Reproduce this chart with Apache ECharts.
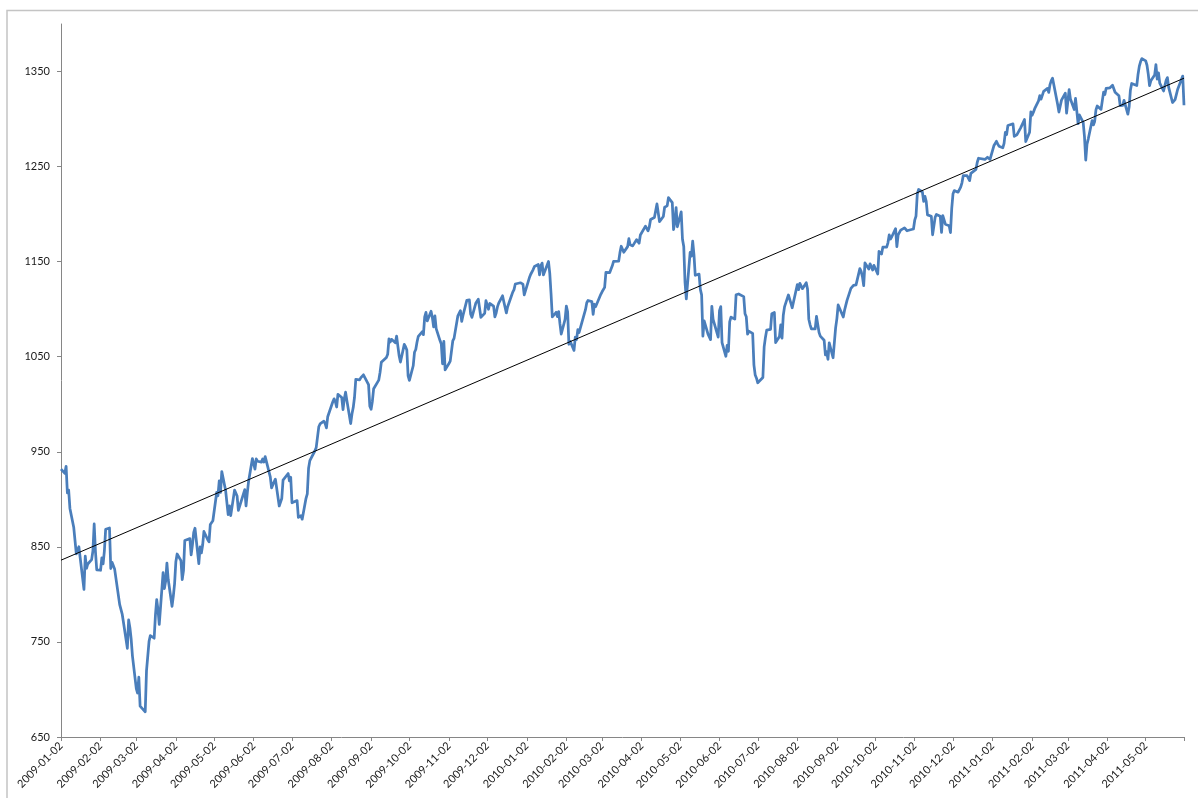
<!DOCTYPE html>
<html>
<head>
<meta charset="utf-8">
<script src="https://cdn.jsdelivr.net/npm/echarts@6/dist/echarts.min.js"></script>
<style>
html,body{margin:0;padding:0;background:#fff;}
#chart{width:1198px;height:798px;}
</style>
</head>
<body>
<div id="chart"></div>
<script>
// Daily closing values
const close2009 = [
['01-02',931.8],['01-05',927.5],['01-06',934.7],['01-07',906.7],['01-08',909.7],['01-09',890.4],['01-12',870.3],['01-13',871.8],['01-14',842.6],['01-15',843.7],['01-16',850.1],['01-20',805.2],['01-21',840.2],['01-22',827.5],['01-23',832.0],['01-26',836.6],['01-27',845.7],['01-28',874.1],['01-29',845.1],['01-30',825.9],
['02-02',825.4],['02-03',838.5],['02-04',832.2],['02-05',845.9],['02-06',868.6],['02-09',869.9],['02-10',827.2],['02-11',833.7],['02-12',835.2],['02-13',826.8],['02-17',789.2],['02-18',788.4],['02-19',778.9],['02-20',770.1],['02-23',743.3],['02-24',773.1],['02-25',764.9],['02-26',752.8],['02-27',735.1],
['03-02',700.8],['03-03',696.3],['03-04',712.9],['03-05',682.5],['03-06',683.4],['03-09',676.5],['03-10',719.6],['03-11',721.4],['03-12',750.7],['03-13',756.6],['03-16',753.9],['03-17',778.1],['03-18',794.4],['03-19',784.0],['03-20',768.5],['03-23',822.9],['03-24',806.1],['03-25',813.9],['03-26',832.9],['03-27',815.9],['03-30',787.5],['03-31',797.9],
['04-01',811.1],['04-02',834.4],['04-03',842.5],['04-06',835.5],['04-07',815.6],['04-08',825.2],['04-09',856.6],['04-13',858.7],['04-14',841.5],['04-15',852.1],['04-16',865.3],['04-17',869.6],['04-20',832.4],['04-21',850.1],['04-22',843.6],['04-23',851.9],['04-24',866.2],['04-27',857.5],['04-28',855.2],['04-29',873.6],['04-30',872.8],
['05-01',877.5],['05-04',907.2],['05-05',903.8],['05-06',919.5],['05-07',907.4],['05-08',929.2],['05-11',909.2],['05-12',908.4],['05-13',883.9],['05-14',893.1],['05-15',882.9],['05-18',909.7],['05-19',908.1],['05-20',903.5],['05-21',888.3],['05-22',887.0],['05-26',910.3],['05-27',893.1],['05-28',906.8],['05-29',919.1],
['06-01',942.9],['06-02',944.7],['06-03',931.8],['06-04',942.5],['06-05',940.1],['06-08',939.1],['06-09',942.4],['06-10',939.2],['06-11',944.9],['06-12',946.2],['06-15',923.7],['06-16',912.0],['06-17',910.7],['06-18',918.4],['06-19',921.2],['06-22',893.0],['06-23',895.1],['06-24',900.9],['06-25',920.3],['06-26',918.9],['06-29',927.2],['06-30',919.3],
['07-01',923.3],['07-02',896.4],['07-06',898.7],['07-07',881.0],['07-08',879.6],['07-09',882.7],['07-10',879.1],['07-13',901.1],['07-14',905.8],['07-15',932.7],['07-16',940.7],['07-17',940.4],['07-20',951.1],['07-21',954.6],['07-22',954.1],['07-23',976.3],['07-24',979.3],['07-27',982.2],['07-28',979.6],['07-29',975.2],['07-30',986.8],['07-31',987.5],
['08-03',1002.6],['08-04',1005.7],['08-05',1002.7],['08-06',997.1],['08-07',1010.5],['08-10',1007.1],['08-11',994.4],['08-12',1005.8],['08-13',1012.7],['08-14',1004.1],['08-17',979.7],['08-18',989.7],['08-19',996.5],['08-20',1007.4],['08-21',1026.1],['08-24',1025.6],['08-25',1028.0],['08-26',1028.1],['08-27',1031.0],['08-28',1028.9],['08-31',1020.6],
['09-01',998.0],['09-02',994.8],['09-03',1003.2],['09-04',1016.4],['09-08',1025.4],['09-09',1033.4],['09-10',1044.1],['09-11',1042.7],['09-14',1049.3],['09-15',1052.6],['09-16',1068.8],['09-17',1065.5],['09-18',1068.3],['09-21',1064.7],['09-22',1071.7],['09-23',1060.9],['09-24',1050.8],['09-25',1044.4],['09-28',1063.0],['09-29',1060.6],['09-30',1057.1],
['10-01',1029.9],['10-02',1025.2],['10-05',1040.5],['10-06',1054.7],['10-07',1057.6],['10-08',1065.5],['10-09',1071.5],['10-12',1076.2],['10-13',1073.2],['10-14',1092.0],['10-15',1096.6],['10-16',1087.7],['10-19',1097.9],['10-20',1091.1],['10-21',1081.4],['10-22',1092.9],['10-23',1079.6],['10-26',1067.0],['10-27',1063.4],['10-28',1042.6],['10-29',1066.1],['10-30',1036.2],
['11-02',1042.9],['11-03',1045.4],['11-04',1046.5],['11-05',1066.6],['11-06',1069.3],['11-09',1093.1],['11-10',1093.0],['11-11',1098.5],['11-12',1087.2],['11-13',1093.5],['11-16',1109.3],['11-17',1110.3],['11-18',1109.8],['11-19',1094.9],['11-20',1091.4],['11-23',1106.2],['11-24',1105.7],['11-25',1110.6],['11-27',1091.5],['11-30',1095.6],
['12-01',1108.9],['12-02',1109.2],['12-03',1099.9],['12-04',1106.0],['12-07',1103.3],['12-08',1091.9],['12-09',1096.0],['12-10',1102.4],['12-11',1106.4],['12-14',1114.1],['12-15',1107.9],['12-16',1109.2],['12-17',1096.1],['12-18',1102.5],['12-21',1114.1],['12-22',1118.0],['12-23',1120.6],['12-24',1126.5],['12-28',1127.8],['12-29',1126.2],['12-30',1126.4],['12-31',1115.1]
];
const close2010 = [
['01-04',1133.0],['01-05',1136.5],['01-06',1137.1],['01-07',1141.7],['01-08',1145.0],['01-11',1147.0],['01-12',1136.2],['01-13',1145.7],['01-14',1148.5],['01-15',1136.0],['01-19',1150.2],['01-20',1138.0],['01-21',1116.5],['01-22',1091.8],['01-25',1096.8],['01-26',1092.2],['01-27',1097.5],['01-28',1084.5],['01-29',1073.9],
['02-01',1089.2],['02-02',1103.3],['02-03',1097.3],['02-04',1063.1],['02-05',1066.2],['02-08',1056.7],['02-09',1070.5],['02-10',1068.1],['02-11',1078.5],['02-12',1075.5],['02-16',1094.9],['02-17',1099.5],['02-18',1106.8],['02-19',1109.2],['02-22',1108.0],['02-23',1094.6],['02-24',1105.2],['02-25',1102.9],['02-26',1104.5],
['03-01',1115.7],['03-02',1118.3],['03-03',1118.8],['03-04',1123.0],['03-05',1138.7],['03-08',1138.5],['03-09',1140.5],['03-10',1145.6],['03-11',1150.2],['03-12',1150.0],['03-15',1150.5],['03-16',1159.5],['03-17',1166.2],['03-18',1165.8],['03-19',1159.9],['03-22',1165.8],['03-23',1174.2],['03-24',1167.7],['03-25',1165.7],['03-26',1166.6],['03-29',1173.2],['03-30',1173.3],['03-31',1169.4],
['04-01',1178.1],['04-05',1187.4],['04-06',1189.4],['04-07',1182.4],['04-08',1186.4],['04-09',1194.4],['04-12',1196.5],['04-13',1197.3],['04-14',1210.7],['04-15',1211.7],['04-16',1192.1],['04-19',1197.5],['04-20',1207.2],['04-21',1205.9],['04-22',1208.7],['04-23',1217.3],['04-26',1212.1],['04-27',1183.7],['04-28',1191.4],['04-29',1206.8],['04-30',1186.7],
['05-03',1202.3],['05-04',1173.6],['05-05',1165.9],['05-06',1128.2],['05-07',1110.9],['05-10',1159.7],['05-11',1155.8],['05-12',1171.7],['05-13',1157.4],['05-14',1135.7],['05-17',1136.9],['05-18',1120.8],['05-19',1115.1],['05-20',1071.6],['05-21',1087.7],['05-24',1073.7],['05-25',1074.0],['05-26',1068.0],['05-27',1103.1],['05-28',1089.4],
['06-01',1070.7],['06-02',1098.4],['06-03',1102.8],['06-04',1064.9],['06-07',1050.5],['06-08',1062.0],['06-09',1055.7],['06-10',1086.8],['06-11',1091.6],['06-14',1089.6],['06-15',1115.2],['06-16',1114.6],['06-17',1116.0],['06-18',1117.5],['06-21',1113.2],['06-22',1095.3],['06-23',1092.0],['06-24',1073.7],['06-25',1076.8],['06-28',1074.6],['06-29',1041.2],['06-30',1030.7],
['07-01',1027.4],['07-02',1022.6],['07-06',1028.1],['07-07',1060.3],['07-08',1070.3],['07-09',1078.0],['07-12',1078.8],['07-13',1095.3],['07-14',1095.2],['07-15',1096.5],['07-16',1064.9],['07-19',1071.3],['07-20',1083.5],['07-21',1069.6],['07-22',1093.7],['07-23',1102.7],['07-26',1115.0],['07-27',1113.8],['07-28',1106.1],['07-29',1101.5],['07-30',1101.6],
['08-02',1125.9],['08-03',1120.5],['08-04',1127.2],['08-05',1125.8],['08-06',1121.6],['08-09',1127.8],['08-10',1121.1],['08-11',1089.5],['08-12',1083.6],['08-13',1079.3],['08-16',1079.4],['08-17',1092.5],['08-18',1094.2],['08-19',1075.6],['08-20',1071.7],['08-23',1067.4],['08-24',1051.9],['08-25',1055.3],['08-26',1047.2],['08-27',1064.6],['08-30',1048.9],['08-31',1049.3],
['09-01',1080.3],['09-02',1090.1],['09-03',1104.5],['09-07',1091.8],['09-08',1098.9],['09-09',1104.2],['09-10',1109.6],['09-13',1121.9],['09-14',1121.1],['09-15',1125.1],['09-16',1124.7],['09-17',1125.6],['09-20',1142.7],['09-21',1139.8],['09-22',1134.3],['09-23',1124.8],['09-24',1148.7],['09-27',1142.2],['09-28',1147.7],['09-29',1144.7],['09-30',1141.2],
['10-01',1146.2],['10-04',1137.0],['10-05',1160.8],['10-06',1160.0],['10-07',1158.1],['10-08',1165.2],['10-11',1165.3],['10-12',1169.8],['10-13',1178.1],['10-14',1173.8],['10-15',1176.2],['10-18',1184.7],['10-19',1165.9],['10-20',1178.2],['10-21',1180.3],['10-22',1183.1],['10-25',1185.6],['10-26',1185.6],['10-27',1182.5],['10-28',1183.8],['10-29',1183.3],
['11-01',1184.4],['11-02',1193.6],['11-03',1198.0],['11-04',1221.1],['11-05',1225.9],['11-08',1223.3],['11-09',1213.4],['11-10',1218.7],['11-11',1213.5],['11-12',1199.2],['11-15',1197.8],['11-16',1178.3],['11-17',1178.6],['11-18',1196.7],['11-19',1199.7],['11-22',1197.8],['11-23',1180.7],['11-24',1198.4],['11-26',1189.4],['11-29',1187.8],['11-30',1180.6],
['12-01',1206.1],['12-02',1221.5],['12-03',1224.7],['12-06',1223.1],['12-07',1223.8],['12-08',1228.3],['12-09',1233.0],['12-10',1240.4],['12-13',1240.5],['12-14',1241.6],['12-15',1235.2],['12-16',1242.9],['12-17',1243.9],['12-20',1247.1],['12-21',1254.6],['12-22',1258.8],['12-23',1256.8],['12-27',1257.5],['12-28',1258.5],['12-29',1259.8],['12-30',1257.9],['12-31',1257.6]
];
const close2011 = [
['01-03',1271.9],['01-04',1270.2],['01-05',1276.6],['01-06',1273.9],['01-07',1271.5],['01-10',1269.8],['01-11',1274.5],['01-12',1286.0],['01-13',1283.8],['01-14',1293.2],['01-18',1295.0],['01-19',1281.9],['01-20',1280.3],['01-21',1283.4],['01-24',1290.8],['01-25',1291.2],['01-26',1296.6],['01-27',1299.5],['01-28',1276.3],['01-31',1286.1],
['02-01',1307.6],['02-02',1304.0],['02-03',1307.1],['02-04',1310.9],['02-07',1319.1],['02-08',1324.6],['02-09',1320.9],['02-10',1321.9],['02-11',1329.2],['02-14',1332.3],['02-15',1328.0],['02-16',1336.3],['02-17',1340.4],['02-18',1343.0],['02-22',1315.4],['02-23',1307.4],['02-24',1306.1],['02-25',1319.9],['02-28',1327.2],
['03-01',1306.3],['03-02',1308.4],['03-03',1331.0],['03-04',1321.2],['03-07',1310.1],['03-08',1321.8],['03-09',1320.0],['03-10',1295.1],['03-11',1304.3],['03-14',1296.4],['03-15',1281.9],['03-16',1256.9],['03-17',1273.7],['03-18',1279.2],['03-21',1298.4],['03-22',1293.8],['03-23',1297.5],['03-24',1309.7],['03-25',1313.8],['03-28',1310.2],['03-29',1319.4],['03-30',1328.3],['03-31',1325.8],
['04-01',1332.4],['04-04',1332.9],['04-05',1332.6],['04-06',1335.5],['04-07',1333.5],['04-08',1328.2],['04-11',1324.5],['04-12',1314.2],['04-13',1314.4],['04-14',1314.5],['04-15',1319.7],['04-18',1305.1],['04-19',1312.6],['04-20',1330.4],['04-21',1337.4],['04-25',1335.3],['04-26',1347.2],['04-27',1355.7],['04-28',1360.5],['04-29',1363.6],
['05-02',1361.2],['05-03',1356.6],['05-04',1347.3],['05-05',1335.1],['05-06',1340.2],['05-09',1346.3],['05-10',1357.2],['05-11',1342.1],['05-12',1348.7],['05-13',1337.8],['05-16',1329.5],['05-17',1329.0],['05-18',1340.7],['05-19',1343.6],['05-20',1333.3],['05-23',1317.4],['05-24',1316.3],['05-25',1320.5],['05-26',1325.7],['05-27',1331.1],['05-31',1345.2],
['06-01',1314.6]
];
// Linear trend line end points
const trendDates = ['2009-01-02','2011-06-01'];
const trendValues = [836, 1343];
// Axis ticks / labels
const xLabelDates = ['2009-01-02','2009-02-02','2009-03-02','2009-04-02','2009-05-02','2009-06-02','2009-07-02','2009-08-02','2009-09-02','2009-10-02','2009-11-02','2009-12-02',
'2010-01-02','2010-02-02','2010-03-02','2010-04-02','2010-05-02','2010-06-02','2010-07-02','2010-08-02','2010-09-02','2010-10-02','2010-11-02','2010-12-02',
'2011-01-02','2011-02-02','2011-03-02','2011-04-02','2011-05-02'];
const xAxisEnd = '2011-06-01';
const yTicks = [650,750,850,950,1050,1150,1250,1350];
const yMin = 650, yMax = 1400;

function ts(s){const p=s.split('-').map(Number);return Date.UTC(p[0],p[1]-1,p[2]);}
function pad(n){return (n<10?'0':'')+n;}
function fmt(v){const d=new Date(v);return d.getUTCFullYear()+'-'+pad(d.getUTCMonth()+1)+'-'+pad(d.getUTCDate());}

const seriesData = [];
[[2009,close2009],[2010,close2010],[2011,close2011]].forEach(function(p){
  p[1].forEach(function(r){ seriesData.push([ts(p[0]+'-'+r[0]), r[1]]); });
});
const trendData = trendDates.map(function(d,i){return [ts(d), trendValues[i]];});
const labelVals = xLabelDates.map(ts);
const tickVals = labelVals.concat([ts(xAxisEnd)]);

const chart = echarts.init(document.getElementById('chart'), null, {renderer:'canvas'});
const axisColor = '#868686';
chart.setOption({
  animation:false,
  backgroundColor:'#ffffff',
  graphic:[{type:'rect',silent:true,shape:{x:7,y:10.5,width:1400,height:1000},style:{fill:'none',stroke:'#C4C4C4',lineWidth:1.5}}],
  grid:{left:61,right:14,top:24,bottom:61,containLabel:false},
  xAxis:{
    type:'value',
    min:ts(trendDates[0]),
    max:ts(xAxisEnd),
    axisLine:{show:true,lineStyle:{color:axisColor,width:1}},
    axisTick:{show:true,length:4,lineStyle:{color:axisColor},customValues:tickVals},
    axisLabel:{rotate:45,margin:7,fontFamily:'Lato',fontSize:11,color:'#1a1a1a',customValues:labelVals,formatter:function(v){return fmt(v);},showMinLabel:true,showMaxLabel:true,hideOverlap:false},
    splitLine:{show:false}
  },
  yAxis:{
    type:'value',
    min:yMin,max:yMax,
    axisLine:{show:true,lineStyle:{color:axisColor,width:1}},
    axisTick:{show:true,length:4,lineStyle:{color:axisColor},customValues:yTicks},
    axisLabel:{margin:11,fontFamily:'Lato',fontSize:11,color:'#1a1a1a',customValues:yTicks,formatter:function(v){return String(v);}},
    splitLine:{show:false}
  },
  series:[
    {type:'line',data:seriesData,showSymbol:false,symbol:'none',lineStyle:{color:'#4A7EBB',width:2.75,join:'round'},itemStyle:{color:'#4A7EBB'},z:2},
    {type:'line',data:trendData,showSymbol:false,symbol:'none',lineStyle:{color:'#000000',width:1},z:3}
  ]
});
</script>
</body>
</html>
